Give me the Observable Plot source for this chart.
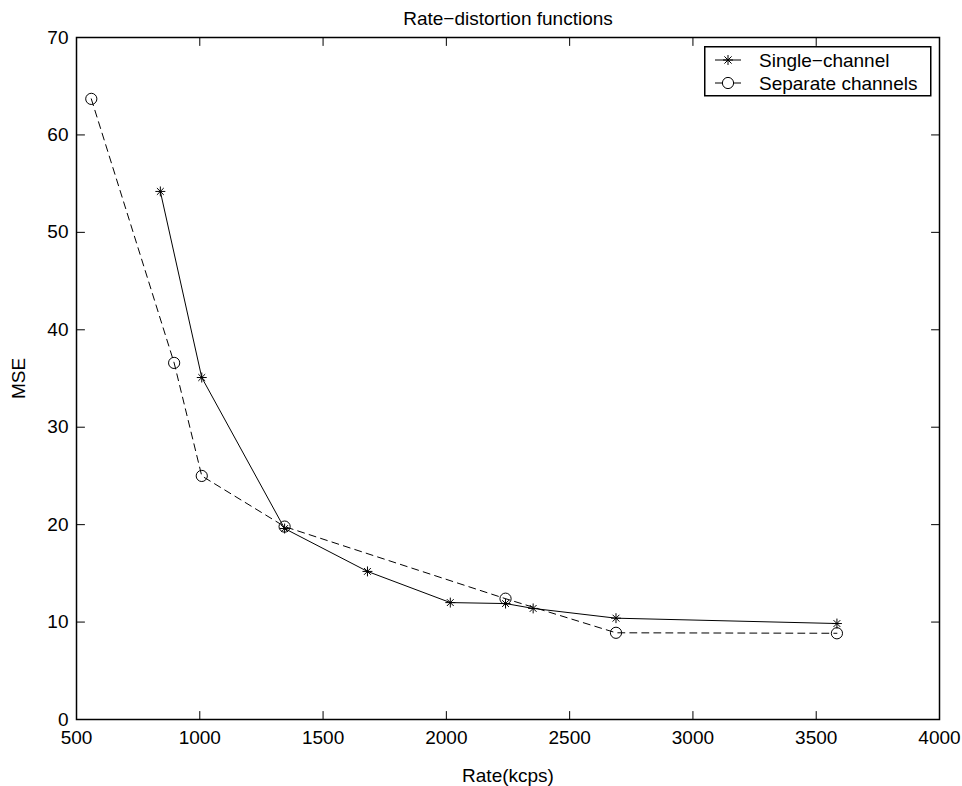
<!DOCTYPE html>
<html>
<head>
<meta charset="utf-8">
<script src="https://cdn.jsdelivr.net/npm/d3@7"></script>
<script src="https://cdn.jsdelivr.net/npm/@observablehq/plot@0.6"></script>
<style>
  html, body { margin: 0; padding: 0; background: #fff; }
  #wrap { position: relative; width: 962px; height: 786px; font-family: "Liberation Sans", Arial, Helvetica, sans-serif; }
  #legend { position: absolute; left: 704px; top: 46px; }
</style>
</head>
<body>
<div id="wrap"></div>
<script>
// ---- data ----
const singleRate = [840, 1008, 1344, 1680, 2016, 2240, 2352, 2688, 3584];
const singleMSE  = [54.2, 35.1, 19.6, 15.2, 12.0, 11.9, 11.4, 10.4, 9.85];
const sepRate = [560, 896, 1008, 1344, 2240, 2688, 3584];
const sepMSE  = [63.7, 36.6, 25.0, 19.8, 12.4, 8.9, 8.85];
const xTicks = [500, 1000, 1500, 2000, 2500, 3000, 3500, 4000];
const yTicks = [0, 10, 20, 30, 40, 50, 60, 70];
const seriesNames = ["Single\u2212channel", "Separate channels"];
const titleText = "Rate\u2212distortion functions";
const xLabel = "Rate(kcps)";
const yLabel = "MSE";

const single = singleRate.map((r, i) => ({rate: r, mse: singleMSE[i]}));
const separate = sepRate.map((r, i) => ({rate: r, mse: sepMSE[i]}));

const FONT = "Liberation Sans, Arial, Helvetica, sans-serif";
const FS = 19;
const tickShape = {draw(ctx, l) { ctx.moveTo(0, 0); ctx.lineTo(0, -l); }};

const chart = Plot.plot({
  width: 962,
  height: 786,
  marginLeft: 76,
  marginRight: 23,
  marginTop: 37,
  marginBottom: 67,
  style: {fontFamily: FONT, fontSize: FS + "px", background: "white", color: "black"},
  x: {domain: [500, 4000], ticks: xTicks},
  y: {domain: [0, 70], ticks: yTicks},
  marks: [
    Plot.axisX({ticks: xTicks, tickSize: 0, tickPadding: 11, fontSize: FS, label: null, tickFormat: d => String(d)}),
    Plot.axisY({ticks: yTicks, tickSize: 0, tickPadding: 8, fontSize: FS, label: null, tickFormat: d => String(d)}),
    Plot.vector(xTicks, {x: d => d, frameAnchor: "bottom", length: 8, anchor: "start", rotate: 0, shape: tickShape, stroke: "black", strokeWidth: 1}),
    Plot.vector(xTicks, {x: d => d, frameAnchor: "top", length: 8, anchor: "start", rotate: 180, shape: tickShape, stroke: "black", strokeWidth: 1}),
    Plot.vector(yTicks, {y: d => d, frameAnchor: "left", length: 8, anchor: "start", rotate: 90, shape: tickShape, stroke: "black", strokeWidth: 1}),
    Plot.vector(yTicks, {y: d => d, frameAnchor: "right", length: 8, anchor: "start", rotate: -90, shape: tickShape, stroke: "black", strokeWidth: 1}),
    Plot.line(single, {x: "rate", y: "mse", stroke: "black", strokeWidth: 1}),
    Plot.line(separate, {x: "rate", y: "mse", stroke: "black", strokeWidth: 1, strokeDasharray: "7,5"}),
    Plot.dot(single, {x: "rate", y: "mse", symbol: "plus", r: 3.3, stroke: "black", strokeWidth: 1}),
    Plot.dot(single, {x: "rate", y: "mse", symbol: "times", r: 3.2, stroke: "black", strokeWidth: 1}),
    Plot.dot(separate, {x: "rate", y: "mse", symbol: "circle", r: 5.6, stroke: "black", fill: "none", strokeWidth: 1}),
    Plot.frame({stroke: "black", strokeWidth: 1.5}),
    Plot.text([titleText], {frameAnchor: "top", dy: -19, text: d => d, fontSize: FS, textAnchor: "middle", lineAnchor: "middle"}),
    Plot.text([xLabel], {frameAnchor: "bottom", dy: 56, text: d => d, fontSize: FS, textAnchor: "middle", lineAnchor: "middle"}),
    Plot.text([yLabel], {frameAnchor: "left", dx: -58, text: d => d, fontSize: FS, rotate: -90, textAnchor: "middle", lineAnchor: "middle"})
  ]
});
document.getElementById("wrap").appendChild(chart);

// ---- legend (overlay) ----
const lw = 226, lh = 49;
const leg = d3.select("#wrap").append("svg")
  .attr("id", "legend").attr("width", lw + 2).attr("height", lh + 2)
  .style("font-family", FONT);
leg.append("rect").attr("x", 0.75).attr("y", 0.75).attr("width", lw).attr("height", lh)
  .attr("fill", "white").attr("stroke", "black").attr("stroke-width", 1.5);
const rows = [
  {name: seriesNames[0], dash: null, marker: "star"},
  {name: seriesNames[1], dash: "7,5", marker: "circle"}
];
rows.forEach((r, i) => {
  const cy = 14 + i * 23;
  const g = leg.append("g");
  if (r.dash) {
    g.append("line").attr("x1", 11).attr("x2", 18).attr("y1", cy).attr("y2", cy).attr("stroke", "black");
    g.append("line").attr("x1", 30).attr("x2", 37).attr("y1", cy).attr("y2", cy).attr("stroke", "black");
  } else {
    g.append("line").attr("x1", 11).attr("x2", 37).attr("y1", cy).attr("y2", cy).attr("stroke", "black");
  }
  const cx = 24;
  if (r.marker === "star") {
    const p = d3.path();
    p.moveTo(cx - 5, cy); p.lineTo(cx + 5, cy);
    p.moveTo(cx, cy - 5); p.lineTo(cx, cy + 5);
    p.moveTo(cx - 3.6, cy - 3.6); p.lineTo(cx + 3.6, cy + 3.6);
    p.moveTo(cx - 3.6, cy + 3.6); p.lineTo(cx + 3.6, cy - 3.6);
    g.append("path").attr("d", p.toString()).attr("stroke", "black").attr("fill", "none");
  } else {
    g.append("circle").attr("cx", cx).attr("cy", cy).attr("r", 5.6).attr("stroke", "black").attr("fill", "none");
  }
  g.append("text").attr("x", 55).attr("y", cy).attr("dy", "0.35em")
    .attr("font-size", FS).attr("fill", "black").text(r.name);
});
</script>
</body>
</html>
